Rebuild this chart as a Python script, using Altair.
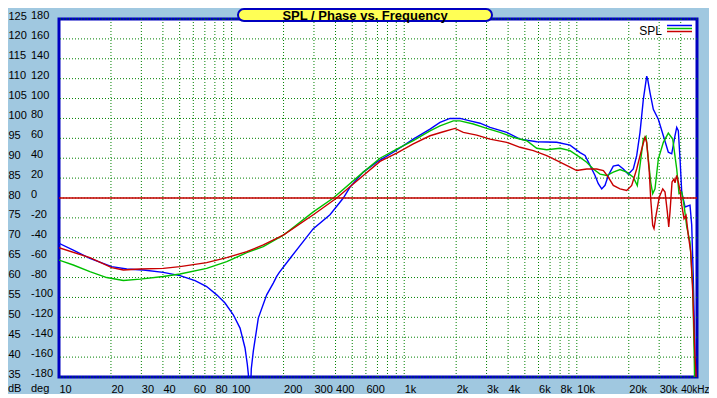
import altair as alt
import pandas as pd

W, H = 638, 358
X_DOMAIN = [10, 49700]
Y_DOMAIN = [35, 125]

blue_f = [10, 12.1, 15.1, 20.2, 24.7, 30.8, 40.2, 50.2, 61.4, 71.7, 82.0, 91.6, 102.3, 111.9,
          119.6, 123.3, 125.0, 127, 128.5, 130, 133.6, 142.8, 159.7, 174.4, 182.5, 189, 217.9,
          297.4, 371.6, 443.7, 485.3, 579.4, 692.9, 864.9, 1129, 1411, 1612, 1842, 2105, 2406,
          2749, 3142, 3926, 4688, 5858, 7648, 9132, 10440, 11160, 11930, 12750, 13320, 13940,
          14570, 15220, 16270, 17400, 18600, 19880, 21250, 22230, 23240, 24290, 25410, 25750,
          26550, 27750, 29670, 31720, 33900, 35470, 37070, 37920, 38740, 39630, 40540, 42370,
          45270, 46310, 47310, 47940, 48390, 48700]
blue_db = [68.6, 66.9, 64.8, 62.75, 62.15, 61.9, 61.3, 60.5, 59.25, 57.75, 55.65, 53.6, 50.65, 47.3,
           42.3, 38.2, 35.8, 30, 30, 37, 41.5, 49.8, 55.65, 58.6, 60.3, 61.3, 64.8,
           72.3, 75.8, 80, 82.75, 86.5, 89, 91.5, 94.8, 97.3, 99, 100, 100, 99.4,
           98.8, 97.75, 96.5, 94.8, 94.15, 94, 93.3, 91.4, 90.7, 88.2, 85.65, 83.6, 82.3,
           83.2, 85.65, 88, 88.3, 87.3, 86, 87.3, 90.65, 96.5, 104.8, 110.65, 109.8,
           106.5, 102.3, 99.8, 95.65, 91.5, 91.1, 95.65, 97.75, 96.9, 89.8, 81.5, 77.75,
           78.2, 73.2, 59.8, 48.2, 36.6, 30]

green_f = [10, 12.1, 15.1, 18.9, 23.6, 29.5, 40.2, 50.2, 71.7, 93.7, 122.4, 152.6, 199.3, 297.4,
           388.3, 579.4, 724.1, 904.9, 1129, 1411, 1612, 1925, 2105, 2514, 3006, 3590, 4287,
           5125, 5858, 6694, 7992, 9132, 10440, 11410, 12460, 13630, 14900, 16270, 17800, 19460,
           21250, 22410, 23240, 24290, 25170, 25960, 26800, 27520, 28380, 29670, 31720, 33900,
           35950, 37920, 39100, 40540, 41810, 43340, 45270, 46930, 47940, 48300]
green_db = [64.4, 63.15, 61.5, 60, 59.25, 59.6, 60.25, 60.9, 62.3, 64, 66.25, 67.75, 70.65, 76.5,
            80, 86.5, 90, 92.3, 94.4, 96.9, 98.15, 99.4, 99.4, 98.6, 97.5, 96.5, 95.25,
            94.4, 92.5, 92.15, 92.5, 91.9, 90.2, 89, 87.3, 86, 85.65, 86.5, 87.15, 86.5,
            85.25, 83.15, 88.2, 94.8, 95.5, 89.8, 84, 81.1, 82.3, 89.8, 94, 96.3,
            94.8, 87.3, 81.1, 81.5, 78.2, 72.75, 69, 58.15, 39, 30]

red_f = [10, 15.1, 20.2, 23.6, 29.5, 40.2, 50.2, 71.7, 93.7, 122.4, 152.6, 199.3, 297.4, 406.3,
         579.4, 724.1, 904.9, 1129, 1411, 1685, 1969, 2200, 2631, 3142, 3926, 4688, 5598,
         6694, 7992, 9132, 9987, 11410, 13040, 14260, 15220, 16270, 17800, 19460, 20800, 22230,
         23770, 24840, 25410, 26300, 26800, 27520, 28010, 28770, 30060, 31470, 32440, 33450,
         34090, 34670, 35620, 36570, 37070, 37920, 38740, 39630, 40540, 41810, 42940, 44250,
         45700, 46930, 48390, 49040, 49300]
red_db = [67.5, 65, 62.5, 61.9, 62.15, 62.3, 62.75, 63.75, 65, 66.5, 68.2, 70.65, 75.8, 80,
          85.65, 89.2, 91.3, 93.6, 95.65, 96.65, 97.5, 96.5, 95.8, 94.8, 94, 92.75, 91.9,
          90.65, 89, 87.75, 86.9, 87.3, 87.3, 86.9, 85.25, 83.15, 82.3, 81.9, 83.15, 87.3,
          92.3, 95.25, 94, 86.5, 79.8, 73.15, 72.3, 75.65, 80.25, 82.3, 81.5, 76.5,
          72.75, 76.5, 84, 84.8, 83.8, 85.65, 84, 81.9, 78.2, 74.8, 75.65, 70.65,
          66.5, 56.5, 39.8, 36, 30]

grid_freqs = [20, 30, 40, 50, 60, 70, 80, 90, 100, 200, 300, 400, 500, 600, 700, 800, 900,
              1000, 2000, 3000, 4000, 5000, 6000, 7000, 8000, 9000, 10000, 20000, 30000, 40000]
label_freqs = [10, 20, 30, 40, 60, 80, 100, 200, 300, 400, 600, 1000, 2000, 3000, 4000,
               6000, 8000, 10000, 20000, 30000, 40000]
db_ticks = [35, 40, 45, 50, 55, 60, 65, 70, 75, 80, 85, 90, 95, 100, 105, 110, 115, 120, 125]
deg_labels = ["-180", "-160", "-140", "-120", "-100", "-80", "-60", "-40", "-20", "0",
              "20", "40", "60", "80", "100", "120", "140", "160", "180"]
zero_line = [80]
title_text = ["SPL / Phase vs. Frequency"]
legend_text = ["SPL"]
unit_labels = ["dB", "deg"]

BG = "#A0C8E0"
BORDER = "#0000C0"
GRID = "#008000"
C_BLUE, C_GREEN, C_RED = "#0000FF", "#00C000", "#C80000"
FONT = "Liberation Sans"

xscale = alt.Scale(type="log", domain=X_DOMAIN)
yscale = alt.Scale(domain=Y_DOMAIN)

x_label_expr = ("datum.value == 40000 ? '40kHz' : (datum.value >= 1000 ? "
                "(datum.value / 1000) + 'k' : '' + datum.value)")

x_axis = alt.Axis(
    values=label_freqs, labelExpr=x_label_expr, labelAlign="left",
    labelBaseline="middle", labelPadding=12, tickSize=0, ticks=False,
    domain=False, grid=False, labelOverlap=False, labelFlush=False,
    labelBound=False, title=None,
    labelFontSize={"condition": {"test": "datum.value == 40000", "value": 10}, "value": 11})
y_axis = alt.Axis(
    values=db_ticks, labelAlign="left", labelBaseline="middle",
    labelPadding=51, labelOffset=-3, tickSize=0, ticks=False, domain=False,
    grid=False, labelOverlap=False, labelFlush=False, labelBound=False,
    title=None)

X = alt.X("f:Q", scale=xscale, axis=x_axis)
Y = alt.Y("db:Q", scale=yscale, axis=y_axis)

vgrid = alt.Chart(pd.DataFrame({"f": grid_freqs})).mark_rule(
    color=GRID, strokeDash=[1, 2], strokeWidth=1
).encode(x=X)

hgrid = alt.Chart(pd.DataFrame({"db": db_ticks})).mark_rule(
    color=GRID, strokeDash=[1, 2], strokeWidth=1
).encode(y=Y)

deg_df = pd.DataFrame({"db": db_ticks, "deg": deg_labels})
deg_text = alt.Chart(deg_df).mark_text(
    align="left", baseline="middle", dy=-3, font=FONT, fontSize=11, color="black"
).encode(
    x=alt.value(-28),
    y=Y,
    text="deg:N",
)

units_df = pd.DataFrame({"u": unit_labels})
unit_db = alt.Chart(units_df[units_df.u == "dB"]).mark_text(
    align="left", baseline="middle", font=FONT, fontSize=11, color="black"
).encode(x=alt.value(-51), y=alt.value(H + 12), text="u:N")
unit_deg = alt.Chart(units_df[units_df.u == "deg"]).mark_text(
    align="left", baseline="middle", font=FONT, fontSize=11, color="black"
).encode(x=alt.value(-28), y=alt.value(H + 12), text="u:N")


def curve(fs, dbs, color):
    return alt.Chart(pd.DataFrame({"f": fs, "db": dbs})).mark_line(
        color=color, strokeWidth=1.4, clip=True
    ).encode(x=X, y=Y, order="f:Q")


blue_line = curve(blue_f, blue_db, C_BLUE)
green_line = curve(green_f, green_db, C_GREEN)
red_line = curve(red_f, red_db, C_RED)

zero_rule = alt.Chart(pd.DataFrame({"db": zero_line})).mark_rule(
    color=C_RED, strokeWidth=1.5
).encode(y=Y)

one = pd.DataFrame({"t": title_text})
title_box = alt.Chart(one).mark_rect(
    fill="#FFFF55", stroke=BORDER, strokeWidth=2, cornerRadius=7
).encode(x=alt.value(179), x2=alt.value(433), y=alt.value(-10), y2=alt.value(2))
title_label = alt.Chart(one).mark_text(
    font=FONT, fontSize=13, fontWeight="bold", color="black",
    align="center", baseline="middle"
).encode(x=alt.value(306), y=alt.value(-3.5), text="t:N")

leg = pd.DataFrame({"t": legend_text})
legend_label = alt.Chart(leg).mark_text(
    font=FONT, fontSize=12, color="black", align="right", baseline="middle"
).encode(x=alt.value(603), y=alt.value(12), text="t:N")
leg_blue = alt.Chart(leg).mark_rule(color=C_BLUE, strokeWidth=1.5).encode(
    x=alt.value(608), x2=alt.value(633), y=alt.value(6.5))
leg_green = alt.Chart(leg).mark_rule(color=C_GREEN, strokeWidth=1.5).encode(
    x=alt.value(608), x2=alt.value(633), y=alt.value(9.5))
leg_red = alt.Chart(leg).mark_rule(color=C_RED, strokeWidth=1.5).encode(
    x=alt.value(608), x2=alt.value(633), y=alt.value(12.5))

chart = alt.layer(
    vgrid, hgrid, blue_line, green_line, red_line, zero_rule,
    deg_text, unit_db, unit_deg, title_box, title_label,
    legend_label, leg_blue, leg_green, leg_red,
).properties(
    width=W, height=H,
    autosize=alt.AutoSizeParams(type="none"),
    padding={"left": 51, "top": 11, "right": 12, "bottom": 17},
    background=BG,
).configure_view(
    fill="white", stroke=BORDER, strokeWidth=3
).configure_axis(
    labelFont=FONT, labelFontSize=11, labelColor="black"
)

chart.save("out.html", embed_options={"renderer": "svg", "actions": False})
